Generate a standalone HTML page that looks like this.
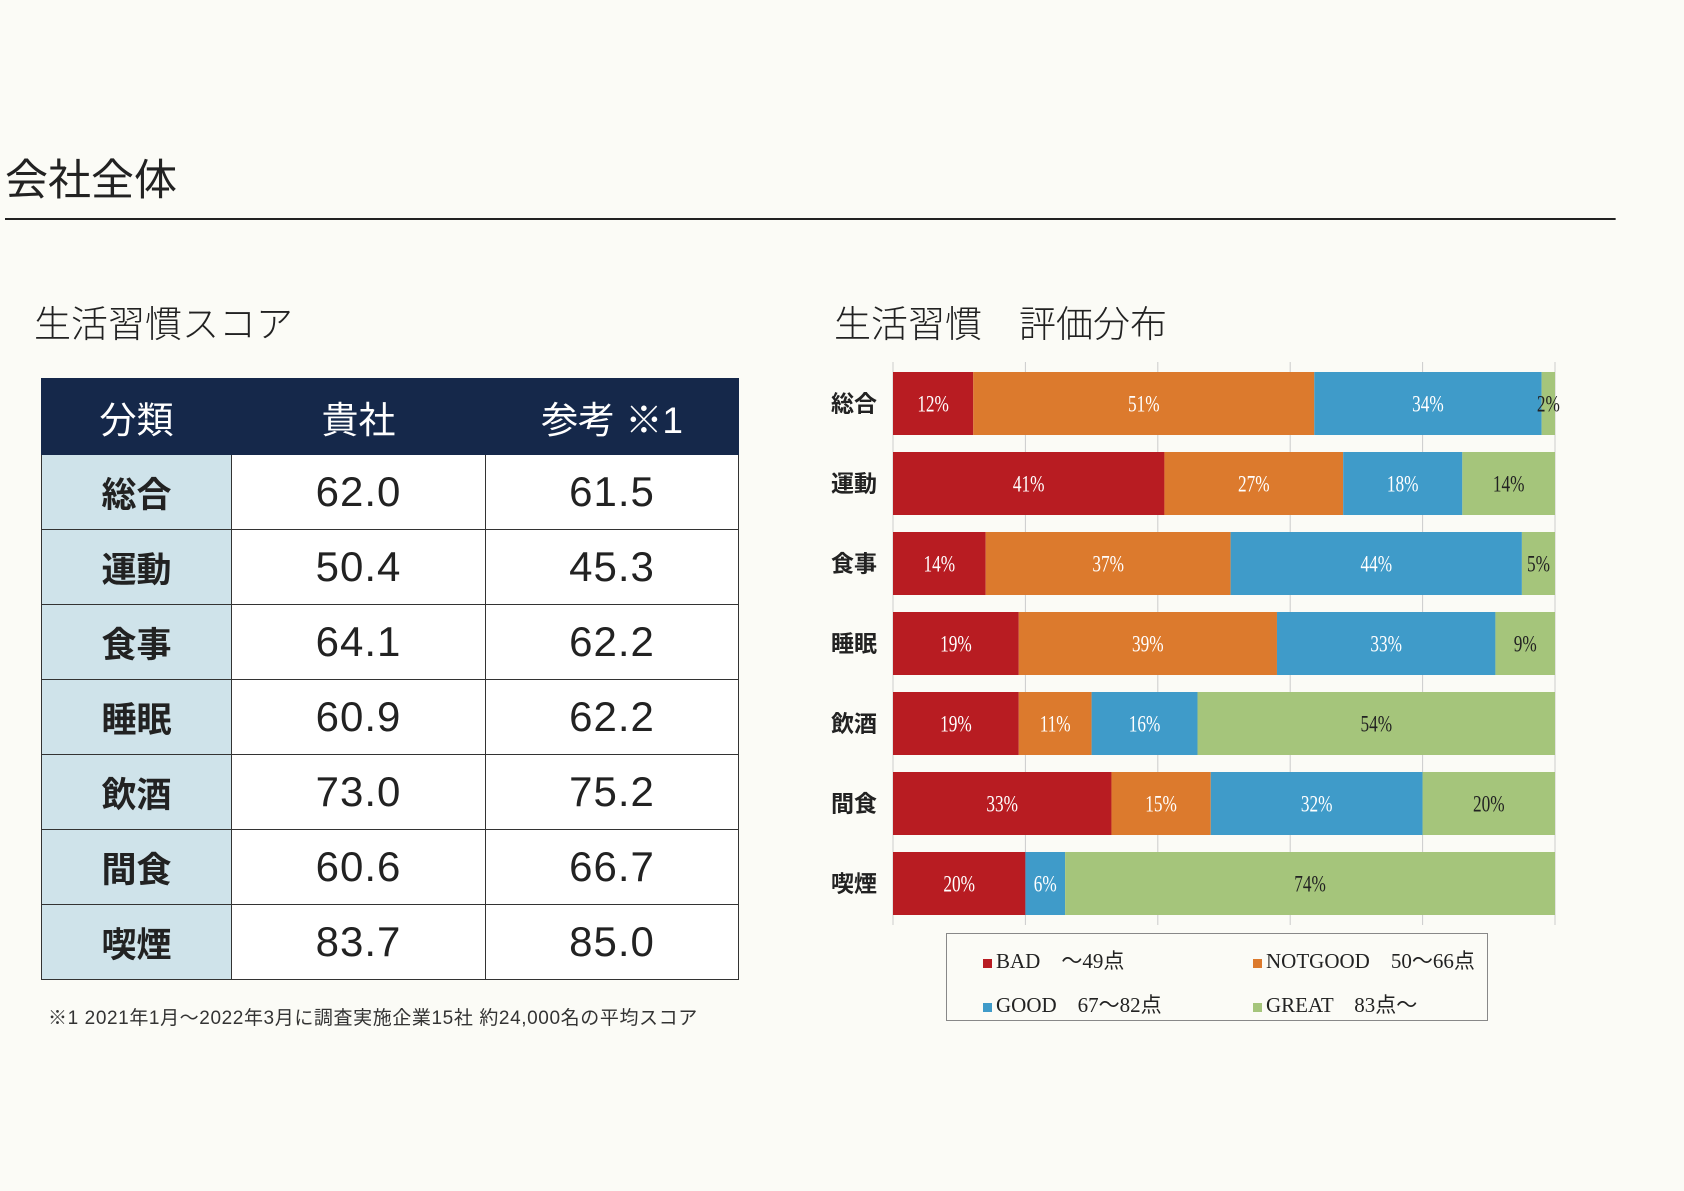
<!DOCTYPE html>
<html><head><meta charset="utf-8">
<style>
body{margin:0;width:1684px;height:1191px;background:#fbfbf6;position:relative;overflow:hidden;font-family:"Liberation Sans","Noto Sans CJK JP",sans-serif;color:#222}
.abs{position:absolute}
table{border-collapse:collapse;position:absolute;left:41px;top:378px;width:698px}
td,th{border:1.5px solid #333;text-align:center;height:74px;padding:0}
th{background:#15284a;color:#fff;font-weight:normal;font-size:37px;height:75px;border-color:#15284a}
td.cat{background:#cfe3ea;font-size:35px;font-weight:bold;width:189px}
td.num{background:#fff;font-size:42px;letter-spacing:1px}
</style></head><body>
<div class="abs" style="left:5px;top:146px;font-size:43px;font-family:'Noto Sans CJK JP',sans-serif">会社全体</div>
<div class="abs" style="left:5px;top:218px;width:1622px;height:2px;background:#222;transform-origin:left;transform:scaleX(0.993)"></div>
<div class="abs" style="left:34px;top:294px;font-size:37px;font-family:'Noto Sans CJK JP',sans-serif;font-weight:300">生活習慣スコア</div>
<div class="abs" style="left:834px;top:294px;font-size:37px;font-family:'Noto Sans CJK JP',sans-serif;font-weight:300">生活習慣　評価分布</div>
<table>
<tr><th style="width:189px">分類</th><th style="width:253px">貴社</th><th>参考 ※1</th></tr>
<tr><td class="cat">総合</td><td class="num">62.0</td><td class="num">61.5</td></tr>
<tr><td class="cat">運動</td><td class="num">50.4</td><td class="num">45.3</td></tr>
<tr><td class="cat">食事</td><td class="num">64.1</td><td class="num">62.2</td></tr>
<tr><td class="cat">睡眠</td><td class="num">60.9</td><td class="num">62.2</td></tr>
<tr><td class="cat">飲酒</td><td class="num">73.0</td><td class="num">75.2</td></tr>
<tr><td class="cat">間食</td><td class="num">60.6</td><td class="num">66.7</td></tr>
<tr><td class="cat">喫煙</td><td class="num">83.7</td><td class="num">85.0</td></tr>
</table>
<div class="abs" style="left:48px;top:1003px;font-size:19px;color:#333;letter-spacing:0.6px">※1 2021年1月～2022年3月に調査実施企業15社 約24,000名の平均スコア</div>

<svg class="abs" style="left:0;top:0" width="1684" height="1191" id="chart"></svg>
<script>
const categories=["総合","運動","食事","睡眠","飲酒","間食","喫煙"];
const bad=[12,41,14,19,19,33,20];
const notgood=[51,27,37,39,11,15,0];
const good=[34,18,44,33,16,32,6];
const great=[2,14,5,9,54,20,74];
const ticks=[0,20,40,60,80,100];
const seriesNames=["bad","notgood","good","great"];
const colors=["#b81c22","#dc7a2d","#3f9bc9","#a5c57b"];
const labelColors=["#fff","#fff","#fff","#222"];
const svg=document.getElementById('chart');
const NS="http://www.w3.org/2000/svg";
const x0=893,x1=1555,yTop=372,pitch=80,bh=63;
const xs=v=>x0+(x1-x0)*v/100;
function mk(t,a){const e=document.createElementNS(NS,t);for(const k in a)e.setAttribute(k,a[k]);svg.appendChild(e);return e;}
ticks.forEach(t=>{const l=mk('line',{x1:xs(t),x2:xs(t),y1:362,y2:925,stroke:'#ccc','stroke-width':1});

});
const series=[bad,notgood,good,great];
categories.forEach((c,i)=>{
 const y=yTop+i*pitch;
 const lab=mk('text',{x:877,y:y+bh/2+8,'text-anchor':'end','font-size':23,'font-weight':'bold','font-family':'"Noto Sans CJK JP",sans-serif',fill:'#222'});
 lab.textContent=c;
 
 
 const total=series.reduce((s,a)=>s+a[i],0);
 let acc=0;
 series.forEach((arr,j)=>{
  const v=arr[i]; if(!v) return;
  const a=xs(acc/total*100), b=xs((acc+v)/total*100); acc+=v;
  const r=mk('rect',{x:a,y:y,width:b-a,height:bh,fill:colors[j]});
  
  
  const t=mk('text',{x:(a+b)/2,y:y+bh/2+8,'text-anchor':'middle','font-size':23,'font-family':'"Liberation Serif",serif',fill:labelColors[j],transform:`translate(${(a+b)/2},0) scale(0.75,1) translate(${-(a+b)/2},0)`});
  t.textContent=v+'%';
  
  
 });
});
</script>
<div class="abs" style="left:946px;top:933px;width:540px;height:86px;border:1.5px solid #888;font-family:'Liberation Serif','Noto Sans CJK JP',serif;font-size:21px">
 <div class="abs" style="left:36px;top:11px"><span style="display:inline-block;width:9px;height:9px;background:#b81c22;margin-right:4px"></span>BAD　～49点</div>
 <div class="abs" style="left:306px;top:11px"><span style="display:inline-block;width:9px;height:9px;background:#dc7a2d;margin-right:4px"></span>NOTGOOD　50～66点</div>
 <div class="abs" style="left:36px;top:55px"><span style="display:inline-block;width:9px;height:9px;background:#3f9bc9;margin-right:4px"></span>GOOD　67～82点</div>
 <div class="abs" style="left:306px;top:55px"><span style="display:inline-block;width:9px;height:9px;background:#a5c57b;margin-right:4px"></span>GREAT　83点～</div>
</div>
</body></html>
